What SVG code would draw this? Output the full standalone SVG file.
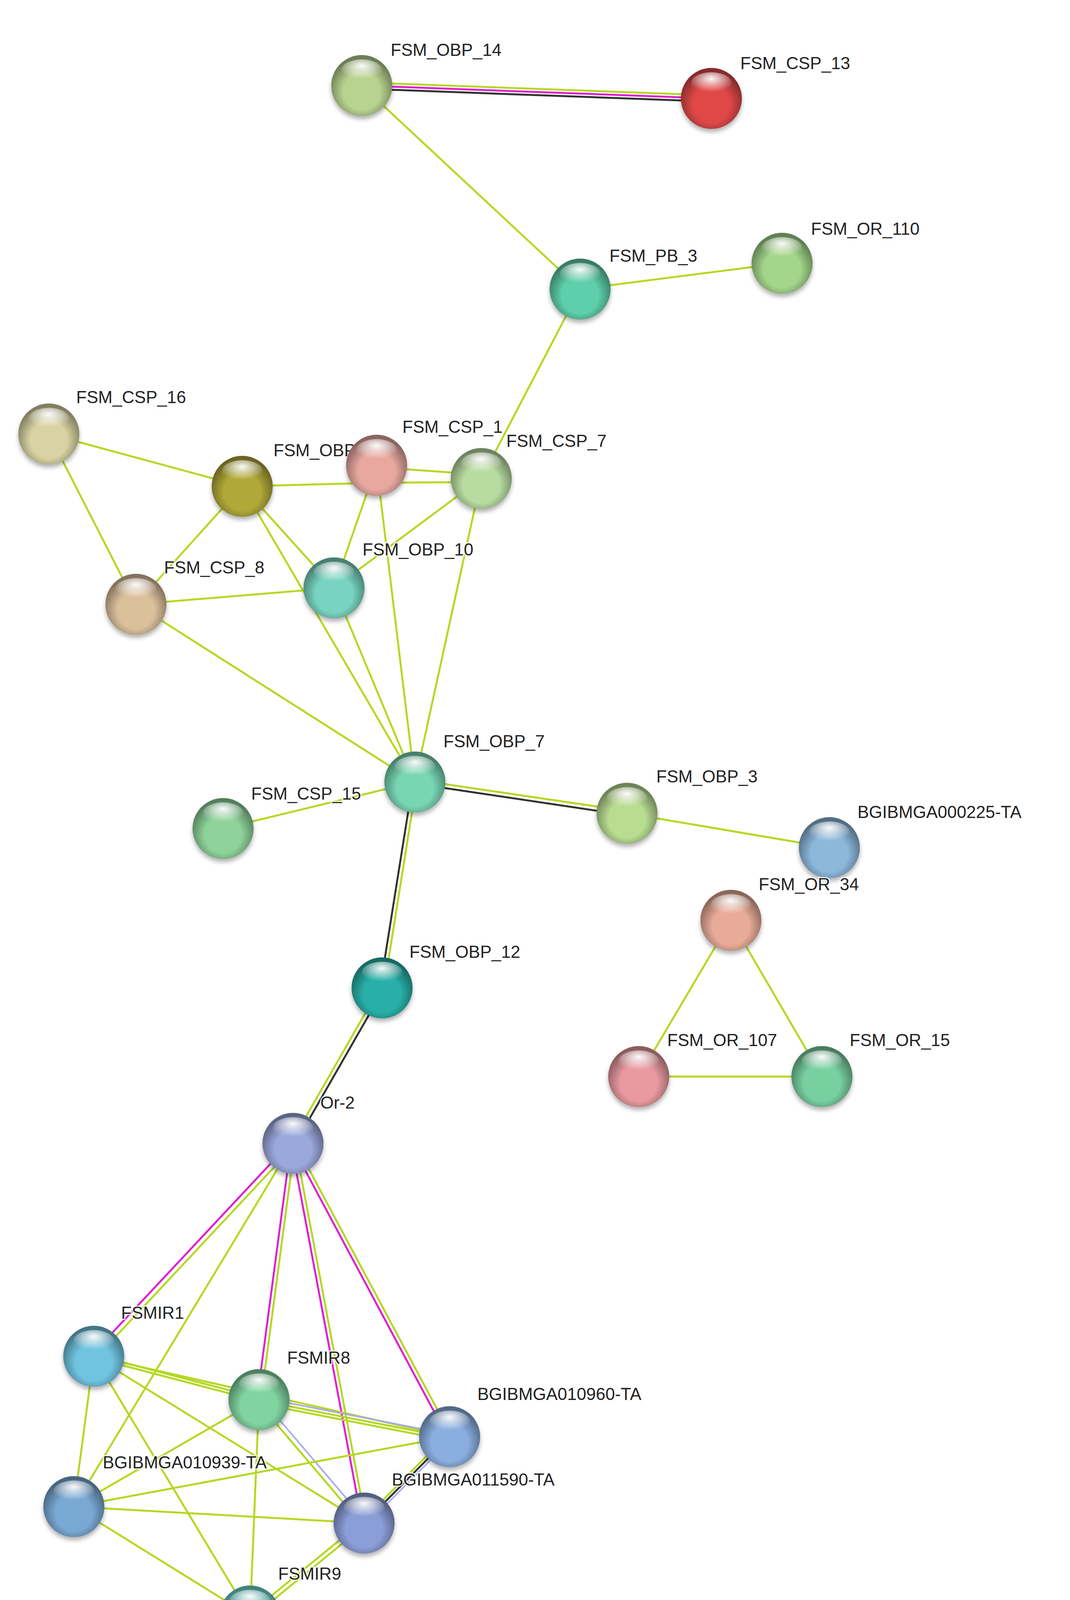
<svg xmlns="http://www.w3.org/2000/svg" width="2739" height="4321" viewBox="0 0 2739 4321">
<style>
.g{stroke:#b5d822;stroke-width:5;fill:none}
.m{stroke:#e020d0;stroke-width:5;fill:none}
.k{stroke:#333;stroke-width:5;fill:none}
.v{stroke:#a8a8f0;stroke-width:4;fill:none}
text{font-family:"Liberation Sans",Arial,sans-serif;font-size:44px;fill:#222;stroke:#fff;stroke-width:6;paint-order:stroke;stroke-opacity:0.8}
.sh{fill:url(#shade)}
.hl{fill:url(#hl)}
.ds{fill:#000;opacity:0.3;filter:url(#ds)}
</style>
<defs>
<radialGradient id="shade" cx="0.5" cy="0.6" r="0.55">
<stop offset="0.55" stop-color="#000" stop-opacity="0"/>
<stop offset="1" stop-color="#000" stop-opacity="0.4"/>
</radialGradient>
<radialGradient id="hl" cx="0.5" cy="0.3" r="0.6">
<stop offset="0" stop-color="#fff" stop-opacity="0.95"/>
<stop offset="1" stop-color="#fff" stop-opacity="0"/>
</radialGradient>
<filter id="ds" x="-30%" y="-30%" width="160%" height="160%"><feGaussianBlur stdDeviation="6"/></filter>
</defs>
<rect width="2739" height="4321" fill="#fff"/>
<g id="connectors">
<line class="g" x1="926" y1="211" x2="1821" y2="244"/>
<line class="m" x1="926" y1="219" x2="1821" y2="252"/>
<line class="k" x1="926" y1="227" x2="1821" y2="260"/>
<line class="g" x1="926" y1="219" x2="1485" y2="740"/>
<line class="g" x1="1485" y1="740" x2="2002" y2="674"/>
<line class="g" x1="1485" y1="740" x2="1232" y2="1225"/>
<line class="g" x1="125" y1="1111" x2="620" y2="1245"/>
<line class="g" x1="125" y1="1111" x2="348" y2="1547"/>
<line class="g" x1="620" y1="1245" x2="964" y2="1236"/>
<line class="g" x1="964" y1="1196" x2="1232" y2="1215"/>
<line class="g" x1="964" y1="1236" x2="1232" y2="1234"/>
<line class="g" x1="620" y1="1245" x2="348" y2="1547"/>
<line class="g" x1="620" y1="1245" x2="855" y2="1505"/>
<line class="g" x1="620" y1="1245" x2="1062" y2="2002"/>
<line class="g" x1="964" y1="1191" x2="855" y2="1505"/>
<line class="g" x1="964" y1="1191" x2="1062" y2="2002"/>
<line class="g" x1="1232" y1="1225" x2="855" y2="1505"/>
<line class="g" x1="1232" y1="1225" x2="1062" y2="2002"/>
<line class="g" x1="348" y1="1547" x2="855" y2="1505"/>
<line class="g" x1="348" y1="1547" x2="1062" y2="2002"/>
<line class="g" x1="855" y1="1505" x2="1062" y2="2002"/>
<line class="g" x1="1062" y1="2002" x2="571" y2="2121"/>
<line class="g" x1="1062" y1="1996" x2="1605" y2="2076"/>
<line class="k" x1="1062" y1="2006" x2="1605" y2="2087"/>
<line class="g" x1="1605" y1="2082" x2="2123" y2="2170"/>
<line class="g" x1="1871" y1="2356" x2="1635" y2="2756"/>
<line class="g" x1="1871" y1="2356" x2="2104" y2="2756"/>
<line class="g" x1="1635" y1="2756" x2="2104" y2="2756"/>
<line class="g" x1="1067" y1="2002" x2="983" y2="2529"/>
<line class="k" x1="1057" y1="2002" x2="973" y2="2529"/>
<line class="g" x1="972" y1="2529" x2="744" y2="2927"/>
<line class="k" x1="984" y1="2529" x2="756" y2="2927"/>
<line class="m" x1="745" y1="2923" x2="235" y2="3468"/>
<line class="g" x1="755" y1="2931" x2="245" y2="3476"/>
<line class="g" x1="750" y1="2927" x2="189" y2="3857"/>
<line class="m" x1="745" y1="2927" x2="658" y2="3583"/>
<line class="g" x1="755" y1="2927" x2="668" y2="3583"/>
<line class="m" x1="745" y1="2927" x2="927" y2="3899"/>
<line class="g" x1="755" y1="2927" x2="937" y2="3899"/>
<line class="m" x1="746" y1="2930" x2="1147" y2="3681"/>
<line class="g" x1="754" y1="2924" x2="1155" y2="3675"/>
<line class="g" x1="240" y1="3468" x2="663" y2="3579"/>
<line class="g" x1="240" y1="3476" x2="663" y2="3587"/>
<line class="g" x1="240" y1="3472" x2="1151" y2="3678"/>
<line class="g" x1="240" y1="3472" x2="932" y2="3899"/>
<line class="g" x1="240" y1="3472" x2="189" y2="3857"/>
<line class="g" x1="240" y1="3472" x2="640" y2="4137"/>
<line class="v" x1="663" y1="3577" x2="1151" y2="3672"/>
<line class="g" x1="663" y1="3585" x2="1151" y2="3680"/>
<line class="g" x1="663" y1="3593" x2="1151" y2="3688"/>
<line class="v" x1="668" y1="3579" x2="937" y2="3895"/>
<line class="g" x1="658" y1="3587" x2="927" y2="3903"/>
<line class="g" x1="663" y1="3583" x2="189" y2="3857"/>
<line class="g" x1="663" y1="3583" x2="640" y2="4137"/>
<line class="g" x1="189" y1="3857" x2="1151" y2="3678"/>
<line class="g" x1="189" y1="3857" x2="932" y2="3899"/>
<line class="g" x1="189" y1="3857" x2="640" y2="4137"/>
<line class="g" x1="1145" y1="3674" x2="926" y2="3895"/>
<line class="k" x1="1151" y1="3678" x2="932" y2="3899"/>
<line class="v" x1="1157" y1="3682" x2="938" y2="3903"/>
<line class="g" x1="928" y1="3895" x2="636" y2="4133"/>
<line class="g" x1="936" y1="3903" x2="644" y2="4141"/>
</g>
<g id="labels-under">
<text x="700" y="1168">FSM_OBP</text>
</g>
<g id="n-FSM_OBP_14"><circle cx="926" cy="227" r="78" class="ds"/><circle cx="926" cy="219" r="78" fill="#b8d38f"/><circle cx="926" cy="219" r="78" class="sh"/><ellipse cx="926" cy="180" rx="52" ry="28" class="hl"/><text x="1000" y="143">FSM_OBP_14</text></g>
<g id="n-FSM_CSP_13"><circle cx="1821" cy="260" r="78" class="ds"/><circle cx="1821" cy="252" r="78" fill="#e04848"/><circle cx="1821" cy="252" r="78" class="sh"/><ellipse cx="1821" cy="213" rx="52" ry="28" class="hl"/><text x="1895" y="177">FSM_CSP_13</text></g>
<g id="n-FSM_PB_3"><circle cx="1485" cy="748" r="78" class="ds"/><circle cx="1485" cy="740" r="78" fill="#5ecfaa"/><circle cx="1485" cy="740" r="78" class="sh"/><ellipse cx="1485" cy="701" rx="52" ry="28" class="hl"/><text x="1560" y="670">FSM_PB_3</text></g>
<g id="n-FSM_OR_110"><circle cx="2002" cy="682" r="78" class="ds"/><circle cx="2002" cy="674" r="78" fill="#a3d68a"/><circle cx="2002" cy="674" r="78" class="sh"/><ellipse cx="2002" cy="635" rx="52" ry="28" class="hl"/><text x="2076" y="601">FSM_OR_110</text></g>
<g id="n-FSM_CSP_16"><circle cx="125" cy="1119" r="78" class="ds"/><circle cx="125" cy="1111" r="78" fill="#d8d3a2"/><circle cx="125" cy="1111" r="78" class="sh"/><ellipse cx="125" cy="1072" rx="52" ry="28" class="hl"/><text x="195" y="1032">FSM_CSP_16</text></g>
<g id="n-FSM_OBP_olive"><circle cx="620" cy="1253" r="78" class="ds"/><circle cx="620" cy="1245" r="78" fill="#b0a838"/><circle cx="620" cy="1245" r="78" class="sh"/><ellipse cx="620" cy="1206" rx="52" ry="28" class="hl"/></g>
<g id="n-FSM_CSP_1"><circle cx="964" cy="1199" r="78" class="ds"/><circle cx="964" cy="1191" r="78" fill="#e8a8a0"/><circle cx="964" cy="1191" r="78" class="sh"/><ellipse cx="964" cy="1152" rx="52" ry="28" class="hl"/><text x="1030" y="1108">FSM_CSP_1</text></g>
<g id="n-FSM_CSP_7"><circle cx="1232" cy="1233" r="78" class="ds"/><circle cx="1232" cy="1225" r="78" fill="#b8dca0"/><circle cx="1232" cy="1225" r="78" class="sh"/><ellipse cx="1232" cy="1186" rx="52" ry="28" class="hl"/><text x="1296" y="1144">FSM_CSP_7</text></g>
<g id="n-FSM_OBP_10"><circle cx="855" cy="1513" r="78" class="ds"/><circle cx="855" cy="1505" r="78" fill="#78d4c0"/><circle cx="855" cy="1505" r="78" class="sh"/><ellipse cx="855" cy="1466" rx="52" ry="28" class="hl"/><text x="928" y="1422">FSM_OBP_10</text></g>
<g id="n-FSM_CSP_8"><circle cx="348" cy="1555" r="78" class="ds"/><circle cx="348" cy="1547" r="78" fill="#dcc09c"/><circle cx="348" cy="1547" r="78" class="sh"/><ellipse cx="348" cy="1508" rx="52" ry="28" class="hl"/><text x="420" y="1468">FSM_CSP_8</text></g>
<g id="n-FSM_OBP_7"><circle cx="1062" cy="2010" r="78" class="ds"/><circle cx="1062" cy="2002" r="78" fill="#78d6b4"/><circle cx="1062" cy="2002" r="78" class="sh"/><ellipse cx="1062" cy="1963" rx="52" ry="28" class="hl"/><text x="1135" y="1913">FSM_OBP_7</text></g>
<g id="n-FSM_CSP_15"><circle cx="571" cy="2129" r="78" class="ds"/><circle cx="571" cy="2121" r="78" fill="#8ed39a"/><circle cx="571" cy="2121" r="78" class="sh"/><ellipse cx="571" cy="2082" rx="52" ry="28" class="hl"/><text x="643" y="2047">FSM_CSP_15</text></g>
<g id="n-FSM_OBP_3"><circle cx="1605" cy="2090" r="78" class="ds"/><circle cx="1605" cy="2082" r="78" fill="#b8dc90"/><circle cx="1605" cy="2082" r="78" class="sh"/><ellipse cx="1605" cy="2043" rx="52" ry="28" class="hl"/><text x="1680" y="2003">FSM_OBP_3</text></g>
<g id="n-BGIBMGA000225-TA"><circle cx="2123" cy="2178" r="78" class="ds"/><circle cx="2123" cy="2170" r="78" fill="#8cb8dc"/><circle cx="2123" cy="2170" r="78" class="sh"/><ellipse cx="2123" cy="2131" rx="52" ry="28" class="hl"/><text x="2195" y="2094">BGIBMGA000225-TA</text></g>
<g id="n-FSM_OR_34"><circle cx="1871" cy="2364" r="78" class="ds"/><circle cx="1871" cy="2356" r="78" fill="#e8ab98"/><circle cx="1871" cy="2356" r="78" class="sh"/><ellipse cx="1871" cy="2317" rx="52" ry="28" class="hl"/><text x="1942" y="2279">FSM_OR_34</text></g>
<g id="n-FSM_OR_107"><circle cx="1635" cy="2764" r="78" class="ds"/><circle cx="1635" cy="2756" r="78" fill="#e89aa0"/><circle cx="1635" cy="2756" r="78" class="sh"/><ellipse cx="1635" cy="2717" rx="52" ry="28" class="hl"/><text x="1708" y="2678">FSM_OR_107</text></g>
<g id="n-FSM_OR_15"><circle cx="2104" cy="2764" r="78" class="ds"/><circle cx="2104" cy="2756" r="78" fill="#78d0a0"/><circle cx="2104" cy="2756" r="78" class="sh"/><ellipse cx="2104" cy="2717" rx="52" ry="28" class="hl"/><text x="2175" y="2678">FSM_OR_15</text></g>
<g id="n-FSM_OBP_12"><circle cx="978" cy="2537" r="78" class="ds"/><circle cx="978" cy="2529" r="78" fill="#28b0a8"/><circle cx="978" cy="2529" r="78" class="sh"/><ellipse cx="978" cy="2490" rx="52" ry="28" class="hl"/><text x="1048" y="2452">FSM_OBP_12</text></g>
<g id="n-Or-2"><circle cx="750" cy="2935" r="78" class="ds"/><circle cx="750" cy="2927" r="78" fill="#9aa8dc"/><circle cx="750" cy="2927" r="78" class="sh"/><ellipse cx="750" cy="2888" rx="52" ry="28" class="hl"/><text x="820" y="2838">Or-2</text></g>
<g id="n-FSMIR1"><circle cx="240" cy="3480" r="78" class="ds"/><circle cx="240" cy="3472" r="78" fill="#70c4e0"/><circle cx="240" cy="3472" r="78" class="sh"/><ellipse cx="240" cy="3433" rx="52" ry="28" class="hl"/><text x="310" y="3376">FSMIR1</text></g>
<g id="n-FSMIR8"><circle cx="663" cy="3591" r="78" class="ds"/><circle cx="663" cy="3583" r="78" fill="#80d4a0"/><circle cx="663" cy="3583" r="78" class="sh"/><ellipse cx="663" cy="3544" rx="52" ry="28" class="hl"/><text x="735" y="3491">FSMIR8</text></g>
<g id="n-BGIBMGA010960-TA"><circle cx="1151" cy="3686" r="78" class="ds"/><circle cx="1151" cy="3678" r="78" fill="#8aaee0"/><circle cx="1151" cy="3678" r="78" class="sh"/><ellipse cx="1151" cy="3639" rx="52" ry="28" class="hl"/><text x="1222" y="3584">BGIBMGA010960-TA</text></g>
<g id="n-BGIBMGA010939-TA"><circle cx="189" cy="3865" r="78" class="ds"/><circle cx="189" cy="3857" r="78" fill="#7aa8d4"/><circle cx="189" cy="3857" r="78" class="sh"/><ellipse cx="189" cy="3818" rx="52" ry="28" class="hl"/><text x="263" y="3759">BGIBMGA010939-TA</text></g>
<g id="n-BGIBMGA011590-TA"><circle cx="932" cy="3907" r="78" class="ds"/><circle cx="932" cy="3899" r="78" fill="#8c9ed8"/><circle cx="932" cy="3899" r="78" class="sh"/><ellipse cx="932" cy="3860" rx="52" ry="28" class="hl"/><text x="1003" y="3803">BGIBMGA011590-TA</text></g>
<g id="n-FSMIR9"><circle cx="640" cy="4145" r="78" class="ds"/><circle cx="640" cy="4137" r="78" fill="#70d8d4"/><circle cx="640" cy="4137" r="78" class="sh"/><ellipse cx="640" cy="4098" rx="52" ry="28" class="hl"/><text x="712" y="4044">FSMIR9</text></g>
</svg>
